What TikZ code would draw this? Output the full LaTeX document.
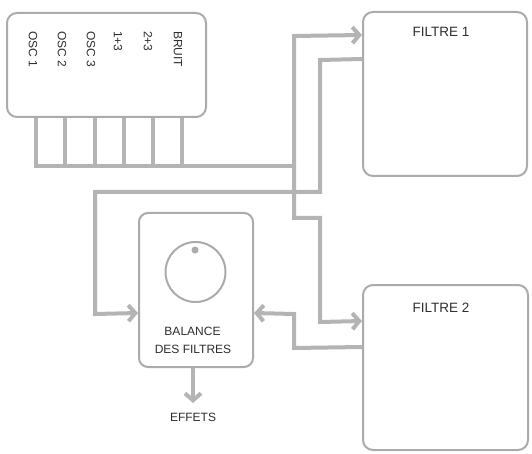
\documentclass[tikz,border=0pt]{standalone}
\usepackage{fontspec}
\setmainfont{Liberation Sans}
\usetikzlibrary{arrows.meta,calc}
\definecolor{wirec}{HTML}{B4B4B4}
\definecolor{boxc}{HTML}{ABABAB}
\definecolor{txtc}{HTML}{2E2E2E}
\tikzset{
  panel/.style={draw=boxc, line width=2pt, rounded corners=10pt, fill=white, inner sep=0pt},
  wire/.style={draw=wirec, line width=4pt, line join=miter},
  arr/.style={wire, -{Straight Barb[length=7pt,width=16pt]}},
  lbl/.style={text=txtc, inner sep=0pt, font=\fontsize{12}{14}\selectfont},
  ttl/.style={text=txtc, inner sep=0pt, font=\fontsize{13.5}{15}\selectfont},
  txt/.style={text=txtc, inner sep=0pt, font=\fontsize{12}{14}\selectfont},
}
\begin{document}
\begin{tikzpicture}[x=1pt,y=-1pt]
\useasboundingbox (0,0) rectangle (532,454);
\fill[white] (0,0) rectangle (532,454);

% tabs (behind the box)
\foreach \x in {36,65,95,124,153,182}{
  \draw[wire] (\x,110) -- (\x,166);
}
\draw[wire] (34,166) -- (294,166);

% boxes
\node[panel, minimum width=199pt, minimum height=104pt] (src) at (106.5,65) {};
\node[panel, minimum width=164pt, minimum height=164pt] (f1) at (445,94) {};
\node[panel, minimum width=165pt, minimum height=165pt] (f2) at (445.5,367.5) {};
\node[panel, minimum width=114pt, minimum height=154pt, rounded corners=9pt] (bal) at (196,290) {};

% source labels
\node[lbl, rotate=-90, anchor=west] (o1) at (33,31) {OSC 1};
\node[lbl, rotate=-90, anchor=west] (o2) at (62,31) {OSC 2};
\node[lbl, rotate=-90, anchor=west] (o3) at (91,31) {OSC 3};
\node[lbl, rotate=-90, anchor=west] (o13) at (118,31) {1+3};
\node[lbl, rotate=-90, anchor=west] (o23) at (148,31) {2+3};
\node[lbl, rotate=-90, anchor=west] (obr) at (178,31) {BRUIT};

% titles
\node[ttl] (t1) at (441,32) {FILTRE 1};
\node[ttl] (t2) at (441,308) {FILTRE 2};

% knob
\node[draw=boxc, line width=2pt, circle, minimum size=60pt, inner sep=0pt] (knob) at (195.5,272) {};
\node[fill=boxc, circle, minimum size=7pt, inner sep=0pt] (dot) at (195,250) {};
\node[txt] (b1) at (192.5,331) {BALANCE};
\node[txt] (b2) at (193,349) {DES FILTRES};
\node[txt] (eff) at (193,417) {EFFETS};

% connectors
\coordinate (j) at (294,166);
\draw[arr] (j) -- (294,36) -- ($(f1.north west)+(0,24)$);
\draw[arr] (j) -- (294,218) -- (320,218) -- (320,322) -- ($(f2.north west)+(0,37)$);
\draw[arr] ($(f1.north west)+(0,48)$) -- (320,60) -- (320,192) -- (95,192) -- (95,314) -- ($(bal.north west)+(0,101)$);
\draw[arr] ($(f2.north west)+(0,63)$) -- (294,348) -- (294,314) -- ($(bal.north east)+(0,101)$);
\draw[arr] (bal.south -| eff) -- ($(bal.south -| eff)+(0,35)$);
\end{tikzpicture}
\end{document}
